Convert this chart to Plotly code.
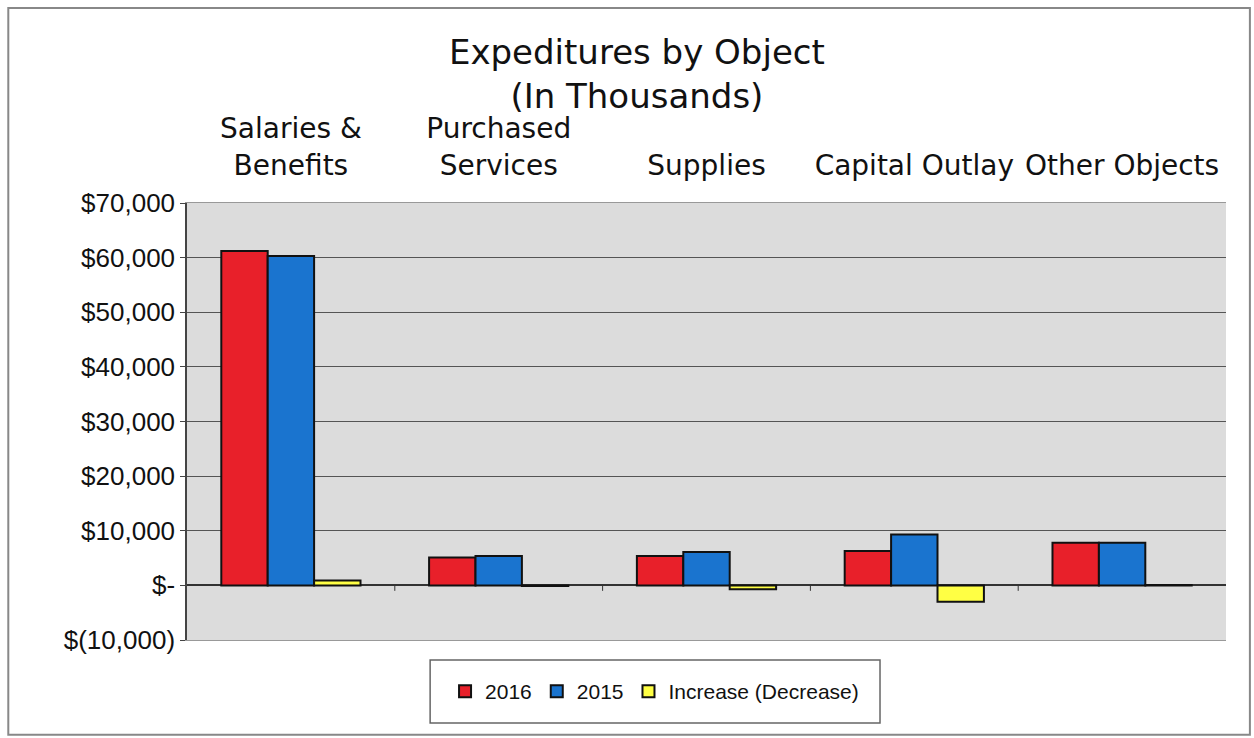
import plotly.graph_objects as go

# Expenditures by object, in thousands of dollars
categories = ["Salaries &<br>Benefits", "Purchased<br>Services", "Supplies",
              "Capital Outlay", "Other Objects"]
values_2016 = [61200, 5100, 5400, 6300, 7800]
values_2015 = [60300, 5400, 6100, 9300, 7800]
change = [900, -100, -700, -3000, 50]

y_tickvals = [70000, 60000, 50000, 40000, 30000, 20000, 10000, 0, -10000]
y_ticktext = ["$70,000", "$60,000", "$50,000", "$40,000", "$30,000",
              "$20,000", "$10,000", "$-", "$(10,000)"]

FONT = "Liberation Sans, Arial, sans-serif"
WIDE_FONT = "DejaVu Sans, Liberation Sans, sans-serif"
outline = dict(color="#111111", width=2)

fig = go.Figure()
fig.add_trace(go.Bar(name="2016", x=categories, y=values_2016,
                     marker=dict(color="#e8202a", line=outline)))
fig.add_trace(go.Bar(name="2015", x=categories, y=values_2015,
                     marker=dict(color="#1a74cf", line=outline)))
fig.add_trace(go.Bar(name="Increase (Decrease)", x=categories, y=change,
                     marker=dict(color="#ffff44", line=outline)))

# small tick marks along the zero line between categories
for i in range(1, len(categories)):
    fig.add_shape(type="line", xref="x", yref="y", x0=i - 0.5, x1=i - 0.5,
                  y0=0, y1=-1000, line=dict(color="#333333", width=1))

# legend box and outer chart frame
fig.add_shape(type="rect", xref="paper", yref="paper", x0=0.234, x1=0.667,
              y0=-0.19, y1=-0.046, line=dict(color="#666666", width=1.5),
              fillcolor="white", layer="below")
fig.add_shape(type="rect", xref="paper", yref="paper", x0=-0.172, x1=1.023,
              y0=-0.217, y1=1.446, line=dict(color="#888888", width=2),
              layer="below")

fig.update_layout(
    width=1254, height=738,
    margin=dict(l=187, r=28, t=203, b=98),
    paper_bgcolor="white",
    plot_bgcolor="#dcdcdc",
    barmode="group",
    bargap=0.33,
    bargroupgap=0,
    font=dict(family=FONT, color="#111111"),
    title=dict(text="Expeditures by Object<br>(In Thousands)",
               x=0.433, xanchor="center", xref="paper",
               y=0.913, yanchor="top", yref="container",
               font=dict(size=34, family=WIDE_FONT, color="#111111")),
    xaxis=dict(side="top", showgrid=False, ticks="outside", ticklen=16,
               tickcolor="rgba(0,0,0,0)", showline=True,
               linecolor="#999999", mirror=True,
               tickfont=dict(size=28, family=WIDE_FONT, color="#111111")),
    yaxis=dict(range=[-10000, 70000], tickvals=y_tickvals,
               ticktext=y_ticktext, showgrid=True, gridcolor="#555555",
               gridwidth=1.2, zeroline=True, zerolinecolor="#333333",
               zerolinewidth=1.5, showline=True, linecolor="#444444",
               linewidth=1.5, ticks="outside", ticklen=5,
               tickcolor="#444444",
               tickfont=dict(size=26, family=FONT, color="#111111")),
    legend=dict(orientation="h", x=0.45, xanchor="center", y=-0.118,
                yanchor="middle", font=dict(size=21, family=FONT),
                bgcolor="rgba(0,0,0,0)", itemwidth=30, traceorder="normal"),
)

fig.write_html("out.html")
